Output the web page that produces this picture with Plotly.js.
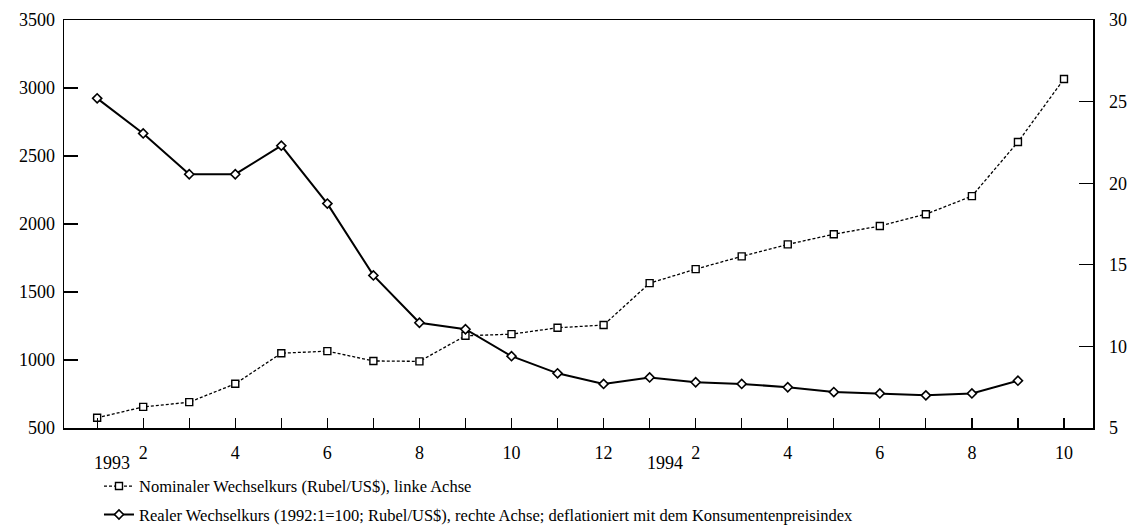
<!DOCTYPE html>
<html>
<head>
<meta charset="utf-8">
<script src="https://cdn.plot.ly/plotly-3.0.1.min.js"></script>
<style>html,body{margin:0;padding:0;background:#fff;}#chart{width:1134px;height:531px;}</style>
</head>
<body>
<div id="chart"></div>
<script>
// months 1993:1 ... 1994:10 (index 0..21)
const months = [0,1,2,3,4,5,6,7,8,9,10,11,12,13,14,15,16,17,18,19,20,21];
const tickLabels = ["","2","","4","","6","","8","","10","","12","","2","","4","","6","","8","","10"];
const yearLabels = ["1993","1994"];
const yearIndex = [0,12];
// Nominaler Wechselkurs (Rubel/US$), linke Achse
const nominal = [575,655,690,825,1050,1065,993,990,1178,1190,1237,1257,1565,1668,1762,1850,1925,1985,2072,2205,2603,3066];
// Realer Wechselkurs (1992:1=100; Rubel/US$), rechte Achse
const realMonths = [0,1,2,3,4,5,6,7,8,9,10,11,12,13,14,15,16,17,18,19,20];
const real = [25.2,23.05,20.55,20.55,22.3,18.75,14.35,11.45,11.05,9.4,8.35,7.7,8.1,7.8,7.7,7.5,7.2,7.12,7.0,7.12,7.9];

const serif = "Liberation Serif, Times New Roman, serif";

const traces = [
  {
    x: months, y: nominal, type: "scatter", mode: "lines+markers",
    name: "Nominaler Wechselkurs (Rubel/US$), linke Achse", legendgroup: "a",
    line: {color: "#000", width: 1.3, dash: "3px,2px"},
    marker: {symbol: "square", size: 7, color: "#fff", line: {color: "#000", width: 1.4}},
    yaxis: "y"
  },
  {
    x: realMonths, y: real, type: "scatter", mode: "lines+markers",
    name: "Realer Wechselkurs (1992:1=100; Rubel/US$), rechte Achse; deflationiert mit dem Konsumentenpreisindex", legendgroup: "b",
    line: {color: "#000", width: 2},
    marker: {symbol: "diamond", size: 7, color: "#fff", line: {color: "#000", width: 1.6}},
    yaxis: "y2"
  }
];

const annotations = yearLabels.map((t, i) => ({
  text: t, x: yearIndex[i] + 0.33, y: 0, xref: "x", yref: "paper",
  yanchor: "top", xanchor: "center", yshift: -23, showarrow: false,
  font: {family: serif, size: 18, color: "#000"}
}));

const tf = {family: serif, size: 18, color: "#000"};

const layout = {
  width: 1134, height: 531,
  margin: {l: 64, r: 41, t: 20, b: 103, autoexpand: false},
  paper_bgcolor: "#fff", plot_bgcolor: "#fff",
  showlegend: true,
  legend: {x: 0.034, y: -0.1, xanchor: "left", yanchor: "top", orientation: "v",
           font: {family: serif, size: 16.5, color: "#000"}, tracegroupgap: 4,
           itemwidth: 30, bgcolor: "rgba(0,0,0,0)"},
  xaxis: {
    range: [-0.72, 21.63], tickmode: "array", tickvals: months, ticktext: tickLabels,
    ticks: "inside", ticklen: 10, tickwidth: 1.2, tickcolor: "#000",
    showline: true, linecolor: "#000", linewidth: 1.5, mirror: true,
    showgrid: false, zeroline: false, ticklabelstandoff: 8,
    tickfont: tf
  },
  yaxis: {
    range: [500, 3500], tickmode: "array", tickvals: [500,1000,1500,2000,2500,3000,3500],
    ticks: "inside", ticklen: 14, tickwidth: 1.2, tickcolor: "#000",
    showline: true, linecolor: "#000", linewidth: 1.5,
    showgrid: false, zeroline: false, ticklabelstandoff: 4,
    tickfont: tf
  },
  yaxis2: {
    range: [5, 30], overlaying: "y", side: "right", tickmode: "array", tickvals: [5,10,15,20,25,30],
    ticks: "inside", ticklen: 14, tickwidth: 1.2, tickcolor: "#000",
    showline: true, linecolor: "#000", linewidth: 1.5,
    showgrid: false, zeroline: false, ticklabelstandoff: 11,
    tickfont: tf
  },
  annotations: annotations
};

Plotly.newPlot("chart", traces, layout, {staticPlot: true, displayModeBar: false});
</script>
</body>
</html>
